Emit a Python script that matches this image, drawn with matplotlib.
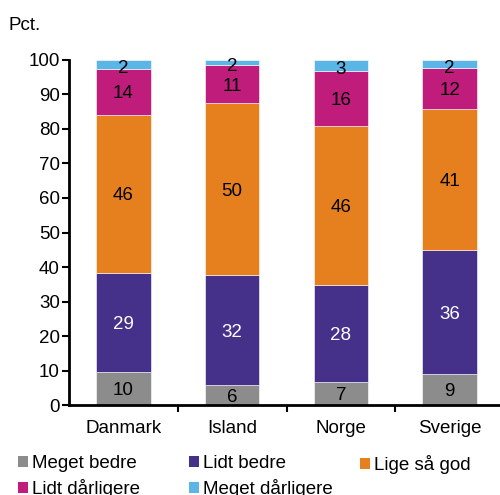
import matplotlib
matplotlib.use("Agg")
import matplotlib.pyplot as plt
import numpy as np
from matplotlib.patches import Patch

plt.rcParams['font.family'] = ['Liberation Sans', 'DejaVu Sans']

categories = ["Danmark", "Island", "Norge", "Sverige"]
series_names = ["Meget bedre", "Lidt bedre", "Lige så god", "Lidt dårligere", "Meget dårligere"]
meget_bedre = [9.6, 5.8, 6.7, 8.9]
lidt_bedre = [28.7, 31.8, 28.0, 35.9]
lige_saa_god = [45.8, 49.8, 46.2, 41.0]
lidt_daarligere = [13.4, 11.1, 15.9, 11.8]
meget_daarligere = [2.5, 1.5, 3.2, 2.4]
labels = [
    [10, 6, 7, 9],
    [29, 32, 28, 36],
    [46, 50, 46, 41],
    [14, 11, 16, 12],
    [2, 2, 3, 2],
]
colors = ["#8c8c8c", "#46318a", "#e6801f", "#c01c7c", "#5bb5e6"]
text_colors = ["black", "white", "black", "black", "black"]
yticks = [0, 10, 20, 30, 40, 50, 60, 70, 80, 90, 100]

series = [meget_bedre, lidt_bedre, lige_saa_god, lidt_daarligere, meget_daarligere]
FS = 13.5

fig = plt.figure(figsize=(5.0, 4.95), dpi=100)
ax = fig.add_axes([0.138, 0.1818, 0.870, 0.697])

x = np.arange(len(categories))
bottom = np.zeros(len(categories))
for i, vals in enumerate(series):
    vals = np.array(vals)
    ax.bar(x, vals, bottom=bottom, width=0.5, color=colors[i],
           edgecolor="white", linewidth=0.4, label=series_names[i])
    for j in range(len(categories)):
        yc = bottom[j] + vals[j] / 2
        if i == 4:
            yc = bottom[j] + vals[j] / 2 - 0.6
        ax.text(x[j], yc, str(labels[i][j]), ha="center", va="center_baseline",
                fontsize=FS, color=text_colors[i])
    bottom += vals

ax.set_xlim(-0.5, 3.5)
ax.set_ylim(0, 100)
ax.set_yticks(yticks)
ax.set_yticklabels([str(t) for t in yticks], fontsize=FS)
ax.set_xticks(x)
ax.set_xticklabels(categories, fontsize=FS)
ax.tick_params(axis="x", length=0, pad=11)
ax.set_xticks([0.5, 1.5, 2.5], minor=True)
ax.tick_params(axis="x", which="minor", length=5, width=1.5, direction="out")
ax.tick_params(axis="y", length=5, width=1.5, direction="out", pad=1.5)
for s in ["top", "right"]:
    ax.spines[s].set_visible(False)
for s in ["left", "bottom"]:
    ax.spines[s].set_linewidth(2)

fig.text(0.016, 0.948, "Pct.", fontsize=FS, ha="left", va="center")

handles = [Patch(facecolor=c, edgecolor="none") for c in colors]
columns = [[0, 3], [1, 4], [2]]
col_x = [0.036, 0.378, 0.72]
for cx, col in zip(col_x, columns):
    fig.legend([handles[k] for k in col], [series_names[k] for k in col],
               ncol=1, loc="upper left", bbox_to_anchor=(cx, 0.081),
               frameon=False, fontsize=FS, handlelength=0.55, handleheight=0.55,
               handletextpad=0.2, labelspacing=0.39,
               borderaxespad=0, borderpad=0)

fig.savefig("out.png", dpi=100)
